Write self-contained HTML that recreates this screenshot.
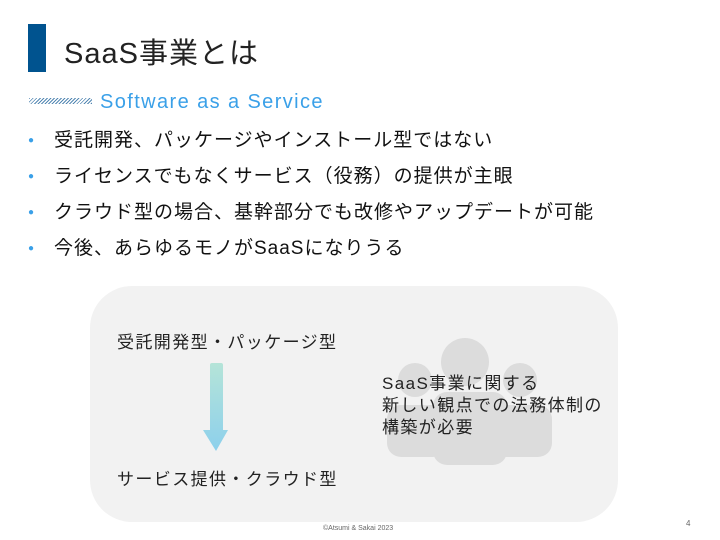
<!DOCTYPE html>
<html><head><meta charset="utf-8"><style>
body{margin:0;width:720px;height:540px;background:#fff;position:relative;overflow:hidden;font-family:"Liberation Sans","Noto Sans CJK JP",sans-serif;}
.a{position:absolute;white-space:nowrap;}
.b{color:#3aa0e8;font-size:10px;display:inline-block;width:26px;vertical-align:middle;position:relative;top:0px;letter-spacing:0;}
</style></head><body>
<div class="a" style="left:28px;top:24px;width:18px;height:48px;background:#00538f"></div>
<div class="a" style="left:64px;top:30px;font-size:29px;color:#222;letter-spacing:1px;">SaaS事業とは</div>
<div class="a" style="left:29px;top:98px;width:63px;height:6px;background:repeating-linear-gradient(135deg,#2a6aa0 0 1px,#fff 1px 2.5px);opacity:0.8"></div>
<div class="a" style="left:100px;top:91px;font-size:20px;color:#3aa0e8;letter-spacing:1.4px;">Software as a Service</div>
<div class="a" style="left:28px;top:123px;font-size:19px;color:#111;line-height:36px;letter-spacing:1px;">
<div><span class="b">●</span>受託開発、パッケージやインストール型ではない</div>
<div><span class="b">●</span>ライセンスでもなくサービス（役務）の提供が主眼</div>
<div><span class="b">●</span>クラウド型の場合、基幹部分でも改修やアップデートが可能</div>
<div><span class="b">●</span>今後、あらゆるモノがSaaSになりうる</div>
</div>
<div class="a" style="left:90px;top:286px;width:528px;height:236px;background:#f2f2f2;border-radius:42px;"></div>
<svg class="a" style="left:0;top:0" width="720" height="540">
<defs><linearGradient id="g" x1="0" y1="0" x2="0" y2="1"><stop offset="0" stop-color="#b5e4d8"/><stop offset="1" stop-color="#8dd0ec"/></linearGradient></defs>
<g fill="#dcdcdc">
<circle cx="465" cy="362" r="24"/><circle cx="415" cy="380" r="17"/><circle cx="520" cy="380" r="17"/>
<rect x="387" y="405" width="60" height="52" rx="14"/><rect x="490" y="405" width="62" height="52" rx="14"/>
<rect x="433" y="392" width="74" height="73" rx="14"/>
</g>
<path d="M210 365 Q210 363 212 363 L221 363 Q223 363 223 365 L223 430 L228 430 L216 451 L203 430 L210 430 Z" fill="url(#g)"/>
</svg>
<div class="a" style="left:117px;top:328px;font-size:17px;color:#222;letter-spacing:1.4px;">受託開発型・パッケージ型</div>
<div class="a" style="left:117px;top:465px;font-size:17px;color:#222;letter-spacing:1.4px;">サービス提供・クラウド型</div>
<div class="a" style="left:382px;top:373px;font-size:17px;color:#222;line-height:22px;letter-spacing:1.4px;">SaaS事業に関する<br>新しい観点での法務体制の<br>構築が必要</div>
<div class="a" style="left:323px;top:525px;font-size:7px;color:#666;">©Atsumi &amp; Sakai 2023</div>
<div class="a" style="left:686px;top:519px;font-size:8px;color:#666;">4</div>
</body></html>
